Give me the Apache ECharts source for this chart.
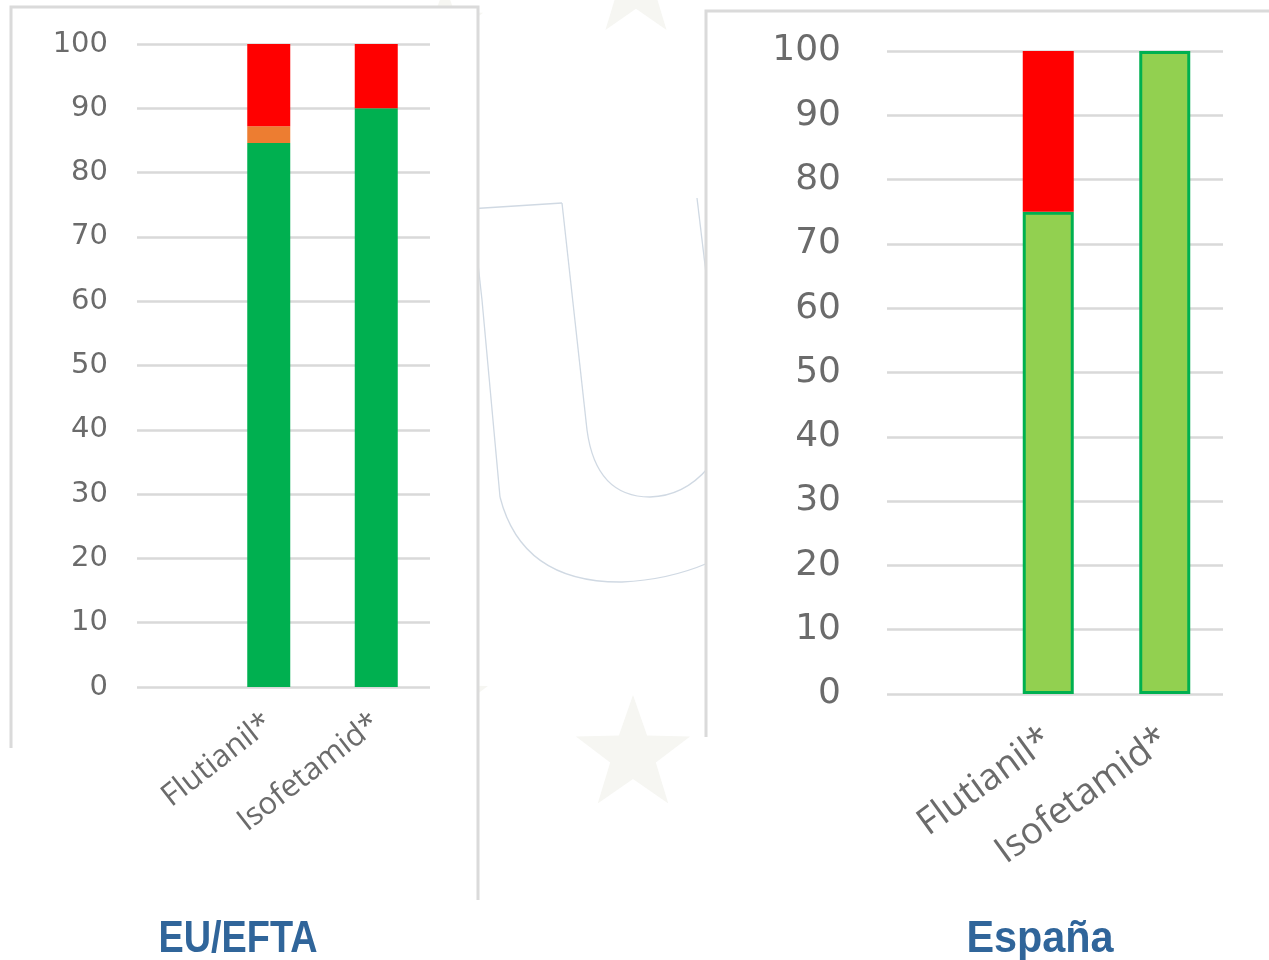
<!DOCTYPE html>
<html>
<head>
<meta charset="utf-8">
<title>Flutianil / Isofetamid</title>
<script src="https://cdn.jsdelivr.net/npm/echarts@6/dist/echarts.min.js"></script>
<style>
  html, body { margin: 0; padding: 0; background: #ffffff; }
  #chart { width: 1269px; height: 960px; }
</style>
</head>
<body>
<div id="chart"></div>
<script>
// Categories (active substances)
const categories = ['Flutianil*', 'Isofetamid*'];

// EU/EFTA panel: share of samples (%)
const euGreen  = [84.6, 90];
const euOrange = [2.6, 0];
const euRed    = [12.8, 10];

// España panel: share of samples (%)
const esGreen  = [75, 100];
const esRed    = [25, 0];

// Panel titles
const panelTitles = ['EU/EFTA', 'España'];

// Y axis scale
const yMin = 0, yMax = 100, yStep = 10;

const W = 1269, H = 960;
const labelColor = '#6b6b6b';
const gridColor = '#d9d9d9';
const numFont = 'DejaVu Sans';
const catFont = 'Open Sans';

// five-point star polygon for the faint background pattern
function star(cx, cy, r) {
  const pts = [];
  for (let i = 0; i < 10; i++) {
    const rr = i % 2 === 0 ? r : r * 0.4;
    const a = -Math.PI / 2 + i * Math.PI / 5;
    pts.push([cx + rr * Math.cos(a), cy + rr * Math.sin(a)]);
  }
  return {
    type: 'polygon', z: -30, silent: true,
    shape: { points: pts },
    style: { fill: '#f6f6f2' }
  };
}

// thin outline strokes of the large "U" letter in the background
const uStyle = { fill: 'none', stroke: '#d0d9e3', lineWidth: 1.3 };
function uLine(x1, y1, x2, y2) {
  return { type: 'line', z: -25, silent: true, shape: { x1, y1, x2, y2 }, style: uStyle };
}
function uCurve(x1, y1, cpx1, cpy1, x2, y2) {
  return { type: 'bezierCurve', z: -25, silent: true, shape: { x1, y1, cpx1, cpy1, x2, y2 }, style: uStyle };
}

const chart = echarts.init(document.getElementById('chart'), null, { renderer: 'canvas' });

// value-axis definition shared by the gridline grids
function yGridAxis(gridIndex, fontSize, margin) {
  return {
    type: 'value', gridIndex, min: yMin, max: yMax, interval: yStep,
    axisLine: { show: false }, axisTick: { show: false },
    splitLine: { show: true, lineStyle: { color: gridColor, width: 2.5 } },
    axisLabel: { color: labelColor, fontSize, fontFamily: numFont, margin }
  };
}
function yHiddenAxis(gridIndex) {
  return { type: 'value', gridIndex, min: yMin, max: yMax, interval: yStep, show: false };
}
function xCatAxis(gridIndex, fontSize, rotate, margin) {
  return {
    type: 'category', gridIndex, data: categories,
    axisLine: { show: false }, axisTick: { show: false },
    axisLabel: { color: labelColor, fontSize, fontFamily: catFont, rotate, margin, interval: 0 }
  };
}

const option = {
  backgroundColor: '#ffffff',
  animation: false,
  grid: [
    { left: 137, right: W - 430, top: 44, bottom: H - 687 },   // EU gridlines
    { left: 215, right: W - 430, top: 44, bottom: H - 687 },   // EU bars
    { left: 887, right: W - 1223, top: 51, bottom: H - 694 },  // ES gridlines
    { left: 990, right: W - 1223, top: 51, bottom: H - 694 }   // ES bars
  ],
  xAxis: [
    { type: 'value', gridIndex: 0, min: 0, max: 1, show: false },
    xCatAxis(1, 31, 38, 33),
    { type: 'value', gridIndex: 2, min: 0, max: 1, show: false },
    xCatAxis(3, 37, 36, 42)
  ],
  yAxis: [
    yGridAxis(0, 29, 29),
    yHiddenAxis(1),
    yGridAxis(2, 36, 46),
    yHiddenAxis(3)
  ],
  series: [
    { name: 'EU verde', type: 'bar', stack: 'eu', xAxisIndex: 1, yAxisIndex: 1,
      barWidth: 43, data: euGreen, itemStyle: { color: '#00b050' } },
    { name: 'EU naranja', type: 'bar', stack: 'eu', xAxisIndex: 1, yAxisIndex: 1,
      barWidth: 43, data: euOrange, itemStyle: { color: '#ed7d31' } },
    { name: 'EU rojo', type: 'bar', stack: 'eu', xAxisIndex: 1, yAxisIndex: 1,
      barWidth: 43, data: euRed, itemStyle: { color: '#ff0000' } },
    { name: 'ES verde', type: 'bar', stack: 'es', xAxisIndex: 3, yAxisIndex: 3,
      barWidth: 51, data: esGreen,
      itemStyle: { color: '#92d050', borderColor: '#00b050', borderWidth: 3 } },
    { name: 'ES rojo', type: 'bar', stack: 'es', xAxisIndex: 3, yAxisIndex: 3,
      barWidth: 51, data: esRed, itemStyle: { color: '#ff0000' } }
  ],
  graphic: [
    // faint watermark behind the panels
    star(633, 755, 60),
    star(636, -12, 52),
    star(445, 700, 45),
    star(445, 25, 40),
    uLine(468, 209, 562, 203),
    uLine(562, 203, 587, 430),
    uCurve(587, 430, 596, 497, 650, 497),
    uCurve(650, 497, 684, 496, 708, 468),
    uLine(472, 209, 482, 300),
    uLine(482, 300, 500, 497),
    uCurve(500, 497, 522, 583, 622, 582),
    uCurve(622, 582, 668, 580, 708, 563),
    uLine(697, 198, 708, 290),
    // EU/EFTA panel
    {
      type: 'rect', z: -10, silent: true,
      shape: { x: 10, y: 7, width: 468, height: 900 },
      style: { fill: '#ffffff' }
    },
    {
      type: 'polyline', z: -9, silent: true,
      shape: { points: [[11, 748], [11, 7], [478, 7], [478, 900]] },
      style: { stroke: '#dadada', lineWidth: 3, fill: 'none' }
    },
    // España panel
    {
      type: 'rect', z: -10, silent: true,
      shape: { x: 705, y: 10, width: 564, height: 727 },
      style: { fill: '#ffffff' }
    },
    {
      type: 'polyline', z: -9, silent: true,
      shape: { points: [[706, 737], [706, 11], [1269, 11]] },
      style: { stroke: '#dadada', lineWidth: 3, fill: 'none' }
    },
    // panel titles (condensed bold lettering)
    {
      type: 'text', z: 10, x: 238, y: 918, scaleX: 0.86,
      style: { text: panelTitles[0], fill: '#30659a',
        font: 'bold 44px "Liberation Sans", sans-serif',
        textAlign: 'center', textVerticalAlign: 'top' }
    },
    {
      type: 'text', z: 10, x: 1040, y: 918, scaleX: 0.94,
      style: { text: panelTitles[1], fill: '#30659a',
        font: 'bold 44px "Liberation Sans", sans-serif',
        textAlign: 'center', textVerticalAlign: 'top' }
    }
  ]
};

chart.setOption(option);
</script>
</body>
</html>
